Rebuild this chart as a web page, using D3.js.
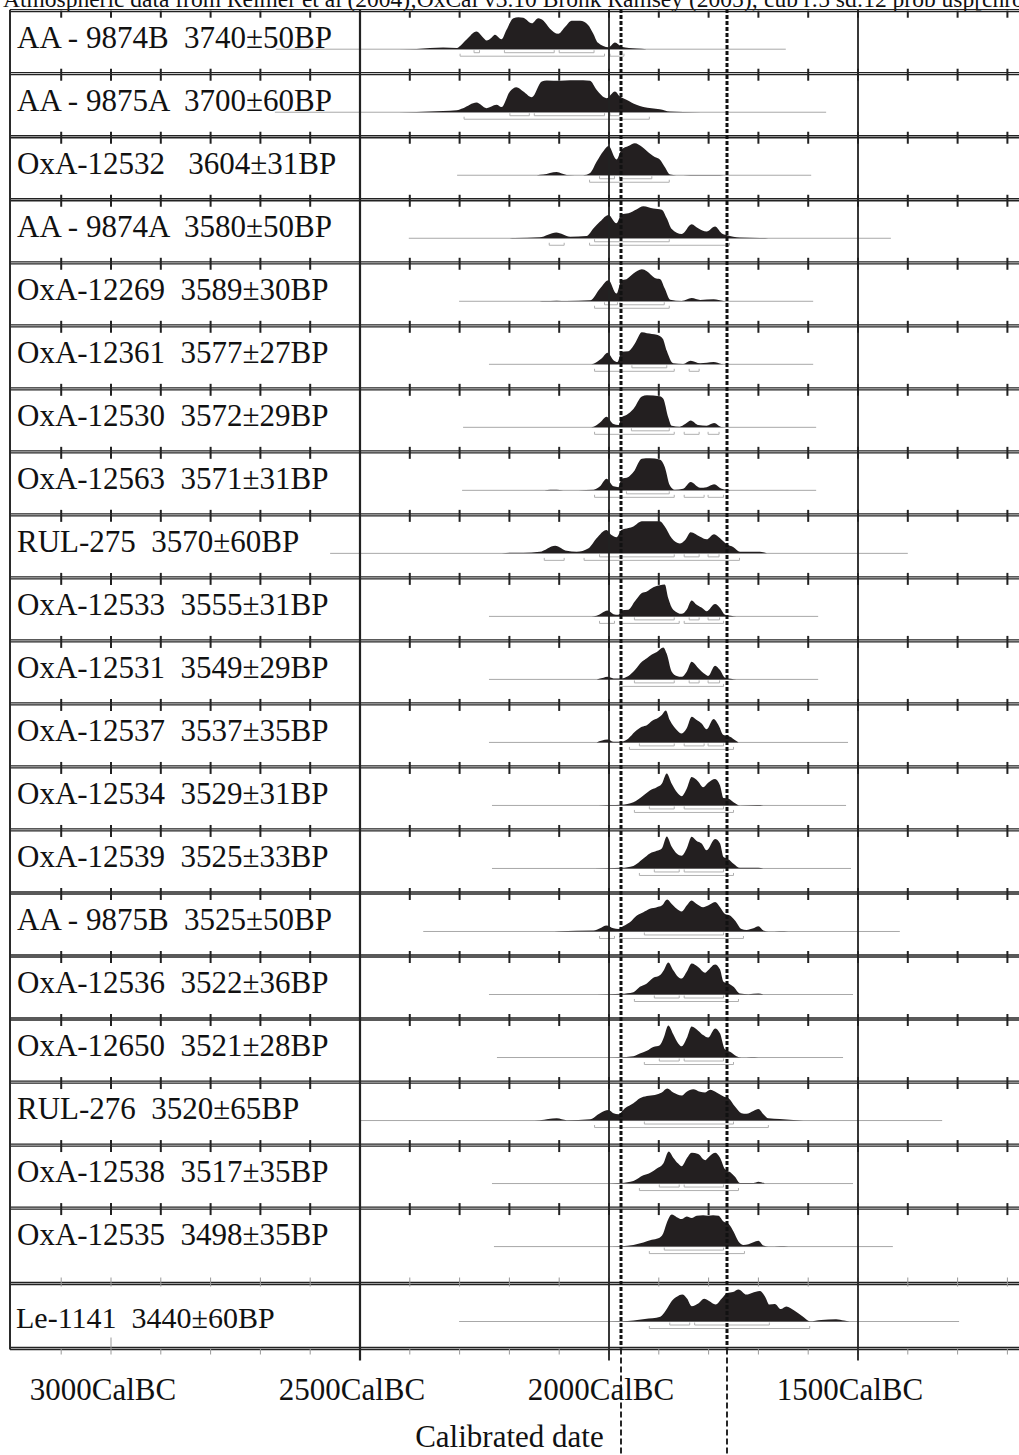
<!DOCTYPE html>
<html><head><meta charset="utf-8">
<script src="https://cdn.jsdelivr.net/npm/d3@7"></script>
<style>
body{margin:0;background:#fff}
svg{display:block}
text{font-family:"Liberation Serif","Times New Roman",serif;white-space:pre;fill:#111}
</style>
</head><body>
<svg id="c" width="1019" height="1455"></svg>
<script>
const titleText = "Atmospheric data from Reimer et al (2004);OxCal v3.10 Bronk Ramsey (2005); cub r:5 sd:12 prob usp[chron]";
const labels = [
  "AA - 9874B  3740\u00b150BP","AA - 9875A  3700\u00b160BP","OxA-12532   3604\u00b131BP","AA - 9874A  3580\u00b150BP",
  "OxA-12269  3589\u00b130BP","OxA-12361  3577\u00b127BP","OxA-12530  3572\u00b129BP","OxA-12563  3571\u00b131BP",
  "RUL-275  3570\u00b160BP","OxA-12533  3555\u00b131BP","OxA-12531  3549\u00b129BP","OxA-12537  3537\u00b135BP",
  "OxA-12534  3529\u00b131BP","OxA-12539  3525\u00b133BP","AA - 9875B  3525\u00b150BP","OxA-12536  3522\u00b136BP",
  "OxA-12650  3521\u00b128BP","RUL-276  3520\u00b165BP","OxA-12538  3517\u00b135BP","OxA-12535  3498\u00b135BP",
  "Le-1141  3440\u00b160BP"
];
// calibration plotted span (years BC)
const plotFrom = [2669,2671,2305,2402,2301,2241,2293,2295,2560,2241,2241,2241,2235,2235,2373,2241,2225,2500,2235,2231,2301];
const plotTo   = [1645,1564,1594,1434,1590,1590,1584,1584,1400,1580,1580,1520,1524,1514,1416,1510,1530,1331,1510,1430,1297];
// 68.2% ranges (years BC)
const range68 = [
  [[2271,2260],[2210,2110],[2100,2030]],
  [[2199,2160],[2150,2009],[1998,1979]],
  [[2019,1989],[1979,1914]],
  [[2029,1879]],
  [[2009,1983],[1978,1889]],
  [[1954,1884]],
  [[1955,1879]],
  [[1965,1879]],
  [[2019,1869],[1849,1819],[1801,1779]],
  [[1949,1869],[1839,1819],[1801,1778]],
  [[1949,1869],[1839,1819],[1801,1778]],
  [[1939,1869],[1849,1809],[1801,1770]],
  [[1919,1869],[1849,1770]],
  [[1909,1859],[1849,1770]],
  [[1929,1770]],
  [[1909,1859],[1849,1770]],
  [[1899,1859],[1849,1770]],
  [[1929,1750]],
  [[1899,1859],[1849,1770]],
  [[1889,1770]],
  [[1878,1838],[1828,1678]]
];
// 95.4% ranges (years BC)
const range95 = [
  [[2299,2009],[1998,1970]],
  [[2291,1919]],
  [[2039,1879]],
  [[2120,2090],[2039,1758]],
  [[2029,1879]],
  [[2029,1869],[1839,1819]],
  [[2029,1869],[1849,1819],[1801,1779]],
  [[2029,1869],[1849,1809],[1801,1770]],
  [[2130,2090],[2050,1738]],
  [[2019,1989],[1979,1859],[1849,1770]],
  [[1979,1770]],
  [[1959,1750]],
  [[1949,1750]],
  [[1939,1750]],
  [[2019,1989],[1979,1730]],
  [[1949,1740]],
  [[1929,1750]],
  [[2029,1680]],
  [[1939,1740]],
  [[1919,1728]],
  [[1919,1597]]
];
// relative probability (year BC, relative height)
const densities = [
  [[2460,0],[2386,0.01],[2333,0.05],[2305,0.04],[2299,0.1],[2286,0.3],[2266,0.55],[2252,0.35],[2246,0.27],[2236,0.36],[2229,0.45],[2216,0.31],[2206,0.6],[2192,0.97],[2182,1.0],[2172,0.98],[2155,0.81],[2142,0.97],[2132,0.9],[2119,0.65],[2102,0.48],[2088,0.7],[2075,0.89],[2058,0.89],[2042,0.76],[2032,0.5],[2022,0.2],[2001,0.06],[1988,0.21],[1975,0.08],[1945,0.02],[1924,0]],
  [[2461,0],[2386,0.01],[2333,0.04],[2306,0.06],[2293,0.125],[2266,0.3],[2246,0.125],[2226,0.23],[2216,0.16],[2199,0.65],[2186,0.78],[2172,0.65],[2155,0.47],[2135,0.96],[2125,0.99],[2098,0.98],[2078,1.0],[2052,1.0],[2038,0.98],[2025,0.7],[2005,0.44],[1988,0.65],[1978,0.49],[1965,0.39],[1945,0.23],[1931,0.16],[1898,0.09],[1878,0.02],[1851,0.01],[1777,0]],
  [[2145,0],[2132,0.02],[2105,0.1],[2085,0.01],[2052,0],[2038,0.07],[2025,0.42],[2011,0.76],[2001,0.91],[1985,0.49],[1975,0.8],[1961,0.91],[1948,1.0],[1934,0.89],[1924,0.76],[1908,0.57],[1898,0.49],[1888,0.26],[1877,0.02],[1865,0],[1837,0.01],[1784,0.01],[1770,0]],
  [[2200,0],[2189,0.005],[2139,0.03],[2106,0.18],[2078,0.05],[2045,0.07],[2031,0.31],[2018,0.52],[2001,0.73],[1985,0.47],[1975,0.75],[1961,0.78],[1944,0.91],[1931,1.0],[1911,0.93],[1894,0.89],[1884,0.625],[1874,0.29],[1854,0.135],[1834,0.44],[1821,0.31],[1804,0.21],[1787,0.365],[1774,0.16],[1764,0.1],[1737,0.02],[1697,0.01],[1680,0]],
  [[2140,0],[2129,0.005],[2105,0.02],[2085,0.005],[2038,0.03],[2018,0.4],[2001,0.66],[1985,0.24],[1975,0.66],[1965,0.69],[1951,0.865],[1934,1.0],[1924,0.94],[1908,0.73],[1897,0.69],[1888,0.4],[1877,0.05],[1854,0.01],[1834,0.1],[1817,0.04],[1790,0.06],[1770,0.01],[1760,0]],
  [[2040,0],[2031,0.02],[2015,0.18],[2003,0.36],[1991,0.13],[1983,0.07],[1975,0.39],[1961,0.41],[1948,0.65],[1934,1.0],[1924,0.97],[1904,0.92],[1892,0.8],[1884,0.42],[1871,0.03],[1851,0.01],[1836,0.11],[1817,0.03],[1790,0.07],[1774,0.01],[1765,0]],
  [[2040,0],[2031,0.02],[2018,0.15],[2005,0.33],[1991,0.1],[1981,0.07],[1975,0.31],[1965,0.385],[1951,0.57],[1934,0.96],[1924,1.0],[1898,0.97],[1891,0.89],[1881,0.31],[1874,0.05],[1858,0.02],[1847,0.1],[1836,0.21],[1821,0.07],[1804,0.05],[1789,0.135],[1774,0.01],[1760,0]],
  [[2130,0],[2118,0.02],[2105,0.02],[2092,0],[2031,0.02],[2018,0.125],[2005,0.36],[1991,0.125],[1981,0.1],[1975,0.36],[1961,0.42],[1951,0.57],[1934,0.99],[1918,1.0],[1898,0.96],[1888,0.73],[1878,0.16],[1868,0.02],[1851,0.05],[1836,0.26],[1817,0.08],[1804,0.1],[1789,0.19],[1774,0.05],[1750,0]],
  [[2215,0],[2199,0.02],[2172,0.02],[2139,0.05],[2108,0.24],[2085,0.08],[2065,0.05],[2041,0.16],[2025,0.47],[2005,0.73],[1995,0.57],[1985,0.5],[1975,0.73],[1961,0.79],[1951,0.84],[1934,1.0],[1898,1.0],[1888,0.84],[1874,0.47],[1858,0.31],[1847,0.42],[1836,0.66],[1817,0.52],[1804,0.44],[1789,0.6],[1777,0.47],[1764,0.29],[1750,0.19],[1737,0.05],[1697,0.05],[1683,0]],
  [[2035,0],[2025,0.02],[2015,0.1],[2003,0.18],[1991,0.07],[1981,0.05],[1975,0.19],[1961,0.21],[1948,0.47],[1934,0.73],[1924,0.78],[1911,0.91],[1898,0.97],[1888,1.0],[1881,0.57],[1871,0.21],[1854,0.08],[1844,0.21],[1834,0.5],[1824,0.36],[1811,0.24],[1804,0.16],[1787,0.385],[1777,0.26],[1767,0.05],[1744,0]],
  [[2025,0],[2011,0.05],[2003,0.08],[1991,0.03],[1978,0.03],[1961,0.11],[1948,0.29],[1934,0.55],[1924,0.66],[1914,0.78],[1904,0.86],[1891,1.0],[1884,0.8],[1874,0.24],[1864,0.11],[1854,0.08],[1844,0.24],[1834,0.55],[1821,0.36],[1807,0.16],[1801,0.11],[1787,0.43],[1777,0.29],[1767,0.05],[1744,0]],
  [[2025,0],[2003,0.09],[1991,0.02],[1978,0.02],[1961,0.125],[1948,0.33],[1934,0.49],[1924,0.54],[1914,0.67],[1901,0.77],[1894,0.86],[1886,1.0],[1878,0.7],[1864,0.39],[1854,0.28],[1844,0.44],[1834,0.8],[1824,0.7],[1814,0.59],[1804,0.41],[1790,0.73],[1780,0.54],[1770,0.23],[1757,0.18],[1745,0.05],[1740,0]],
  [[2022,0],[1998,0.01],[1975,0.02],[1951,0.1],[1931,0.31],[1918,0.47],[1904,0.57],[1894,0.68],[1884,1.0],[1874,0.68],[1864,0.42],[1854,0.29],[1844,0.52],[1834,0.885],[1821,0.75],[1811,0.57],[1801,0.71],[1787,0.83],[1777,0.625],[1770,0.23],[1760,0.21],[1750,0.1],[1737,0],[1703,0.01],[1690,0]],
  [[2030,0],[1975,0.02],[1951,0.08],[1931,0.31],[1918,0.47],[1904,0.55],[1894,0.625],[1884,1.0],[1874,0.68],[1864,0.47],[1854,0.4],[1844,0.625],[1834,0.99],[1824,0.86],[1814,0.78],[1804,0.57],[1787,0.92],[1777,0.78],[1770,0.36],[1760,0.29],[1750,0.15],[1737,0.02],[1700,0.02],[1690,0]],
  [[2120,0],[2100,0.01],[2031,0.03],[2018,0.1],[2005,0.19],[1991,0.1],[1981,0.08],[1971,0.17],[1958,0.29],[1944,0.5],[1931,0.6],[1918,0.71],[1904,0.76],[1894,0.81],[1883,1.0],[1874,0.86],[1864,0.71],[1854,0.625],[1844,0.81],[1834,0.97],[1824,0.86],[1811,0.76],[1801,0.81],[1787,0.92],[1777,0.76],[1767,0.55],[1757,0.5],[1747,0.345],[1734,0.08],[1724,0.05],[1710,0.1],[1700,0.16],[1690,0.03],[1680,0],[1657,0.01],[1640,0]],
  [[2025,0],[1975,0.02],[1951,0.07],[1938,0.24],[1924,0.345],[1911,0.52],[1898,0.6],[1890,0.76],[1881,1.0],[1871,0.76],[1861,0.55],[1854,0.5],[1844,0.71],[1834,0.97],[1821,0.86],[1807,0.68],[1801,0.76],[1787,0.94],[1777,0.78],[1770,0.4],[1760,0.345],[1750,0.24],[1737,0.03],[1720,0.01],[1700,0.03],[1690,0]],
  [[2020,0],[1980,0.01],[1951,0.04],[1938,0.125],[1924,0.21],[1911,0.33],[1898,0.385],[1890,0.625],[1881,1.0],[1871,0.73],[1861,0.44],[1854,0.35],[1844,0.6],[1834,0.97],[1821,0.84],[1811,0.7],[1801,0.625],[1787,0.91],[1777,0.75],[1767,0.25],[1757,0.18],[1744,0.04],[1734,0],[1715,0.01],[1700,0]],
  [[2160,0],[2139,0.01],[2105,0.07],[2085,0.01],[2038,0.04],[2018,0.23],[2001,0.33],[1991,0.23],[1981,0.2],[1968,0.385],[1951,0.54],[1938,0.7],[1924,0.77],[1908,0.8],[1894,0.875],[1883,1.0],[1871,0.875],[1854,0.78],[1844,0.9],[1831,0.98],[1817,0.9],[1807,0.875],[1797,0.96],[1784,0.875],[1770,0.75],[1760,0.7],[1747,0.44],[1734,0.23],[1724,0.21],[1710,0.3],[1700,0.36],[1690,0.2],[1680,0.07],[1657,0.05],[1630,0.02],[1610,0]],
  [[2025,0],[1975,0.02],[1951,0.08],[1931,0.26],[1918,0.33],[1904,0.47],[1891,0.625],[1880,1.0],[1871,0.81],[1861,0.625],[1854,0.54],[1844,0.78],[1834,0.96],[1821,0.92],[1807,0.73],[1801,0.81],[1787,0.96],[1777,0.81],[1767,0.45],[1757,0.36],[1747,0.21],[1737,0.02],[1710,0.02],[1700,0.06],[1687,0]],
  [[2015,0],[1975,0.01],[1951,0.05],[1931,0.125],[1914,0.21],[1901,0.26],[1891,0.42],[1883,0.78],[1874,1.0],[1864,0.92],[1854,0.86],[1844,0.94],[1834,0.89],[1824,0.96],[1811,0.98],[1801,0.96],[1791,0.98],[1780,0.96],[1770,0.78],[1760,0.71],[1750,0.47],[1740,0.16],[1730,0.05],[1720,0.07],[1710,0.135],[1700,0.18],[1690,0.03],[1680,0],[1657,0.01],[1640,0]],
  [[2032,0],[1974,0.01],[1928,0.08],[1897,0.15],[1886,0.34],[1874,0.64],[1863,0.78],[1853,0.84],[1843,0.71],[1834,0.48],[1820,0.57],[1809,0.71],[1799,0.64],[1786,0.53],[1774,0.71],[1763,0.89],[1751,0.92],[1740,1.0],[1724,0.84],[1713,0.89],[1697,0.95],[1686,0.76],[1678,0.53],[1667,0.55],[1655,0.39],[1644,0.47],[1628,0.34],[1609,0.135],[1597,0.01],[1574,0.05],[1544,0.07],[1528,0.03],[1517,0]]
];
const tickYears = d3.range(3100, 1150, -100);
const axisYears = [3000, 2500, 2000, 1500];
const axisLabels = ["3000CalBC", "2500CalBC", "2000CalBC", "1500CalBC"];
const markerYears = [1975, 1764];
const axisTitle = "Calibrated date";

const svg = d3.select("#c");
const W = 1019, H = 1455;
const x = d3.scaleLinear().domain([2500, 1500]).range([360, 858]);
const nMain = 20;
const row = d3.scaleLinear().domain([0, 1]).range([10.7, 73.72]);
const lastTop = 1283.5, lastBottom = 1348.5;
const rowTop = i => i < nMain ? row(i) : lastTop;
const baseY = i => i < nMain ? rowTop(i) + 38 : 1321;
const hScale = 32;

svg.append("rect").attr("width", W).attr("height", H).attr("fill", "#fff");

// title (partly clipped at top, as in the original)
svg.append("text").attr("x", 3).attr("y", 7).attr("font-size", 23.5).text(titleText);

const gData = svg.append("g");
const area = d3.area().curve(d3.curveMonotoneX);

labels.forEach((lab, i) => {
  const b = baseY(i);
  gData.append("line").attr("x1", x(plotFrom[i])).attr("x2", x(plotTo[i]))
    .attr("y1", b + 0.5).attr("y2", b + 0.5).attr("stroke", "#a8a8a8").attr("stroke-width", 1);
  area.x(d => x(d[0])).y0(b + 0.5).y1(d => b + 0.5 - d[1] * hScale);
  gData.append("path").attr("d", area(densities[i])).attr("fill", "#231f20");
  const bracket = (r, y) => `M${x(r[0])},${y - 2.5}V${y}H${x(r[1])}V${y - 2.5}`;
  range68[i].forEach(r => gData.append("path").attr("d", bracket(r, b + 4)).attr("fill", "none").attr("stroke", "#b0b0b0").attr("stroke-width", 1));
  range95[i].forEach(r => gData.append("path").attr("d", bracket(r, b + 7.5)).attr("fill", "none").attr("stroke", "#b0b0b0").attr("stroke-width", 1));
});

// row borders (double rule) with ticks
const gFrame = svg.append("g");
const rule = (y, c) => {
  gFrame.append("line").attr("x1", 10).attr("x2", W).attr("y1", y - 1).attr("y2", y - 1).attr("stroke", c).attr("stroke-width", 1.3);
  gFrame.append("line").attr("x1", 10).attr("x2", W).attr("y1", y + 1).attr("y2", y + 1).attr("stroke", c).attr("stroke-width", 1.3);
};
for (let k = 0; k < nMain; k++) {
  const y = rowTop(k);
  rule(y, "#222");
  tickYears.forEach(t => {
    gFrame.append("line").attr("x1", x(t)).attr("x2", x(t)).attr("y1", k === 0 ? y : y - 5).attr("y2", y + 7)
      .attr("stroke", "#222").attr("stroke-width", 2);
  });
}
[lastTop, lastBottom].forEach(y => rule(y, "#222"));
tickYears.forEach(t => {
  gFrame.append("line").attr("x1", x(t)).attr("x2", x(t)).attr("y1", lastTop - 6).attr("y2", lastTop + 3).attr("stroke", "#999").attr("stroke-width", 1);
  gFrame.append("line").attr("x1", x(t)).attr("x2", x(t)).attr("y1", lastBottom).attr("y2", lastBottom + 6).attr("stroke", "#999").attr("stroke-width", 1);
});
gFrame.append("line").attr("x1", x(3000)).attr("x2", x(3000)).attr("y1", lastBottom - 11).attr("y2", lastBottom).attr("stroke", "#999").attr("stroke-width", 1);

// verticals
gFrame.append("line").attr("x1", 10).attr("x2", 10).attr("y1", rowTop(0) - 1).attr("y2", lastBottom + 1).attr("stroke", "#2a2a2a").attr("stroke-width", 2);
[2500, 2000, 1500].forEach(t => {
  gFrame.append("line").attr("x1", x(t)).attr("x2", x(t)).attr("y1", rowTop(0) - 1).attr("y2", lastBottom + 12)
    .attr("stroke", "#222").attr("stroke-width", t === 2500 ? 2.2 : 1.8);
});

// dashed markers
markerYears.forEach(t => {
  const xx = Math.round(x(t));
  svg.append("line").attr("x1", xx).attr("x2", xx).attr("y1", 9).attr("y2", lastBottom)
    .attr("stroke", "#111").attr("stroke-width", 3).attr("stroke-dasharray", "4,2");
  svg.append("line").attr("x1", xx).attr("x2", xx).attr("y1", lastBottom).attr("y2", H)
    .attr("stroke", "#111").attr("stroke-width", 1.8).attr("stroke-dasharray", "6,3");
});

// labels
labels.forEach((lab, i) => {
  const last = i === nMain;
  svg.append("text").attr("x", last ? 16 : 17).attr("y", last ? 1328 : rowTop(i) + 37.3)
    .attr("font-size", last ? 30 : 31).text(lab);
});

// axis labels
axisYears.forEach((t, j) => {
  svg.append("text").attr("x", x(t) - 8).attr("y", 1400).attr("text-anchor", "middle").attr("font-size", 31).text(axisLabels[j]);
});
svg.append("text").attr("x", x(2200)).attr("y", 1447).attr("text-anchor", "middle").attr("font-size", 31).text(axisTitle);
</script>
</body></html>
